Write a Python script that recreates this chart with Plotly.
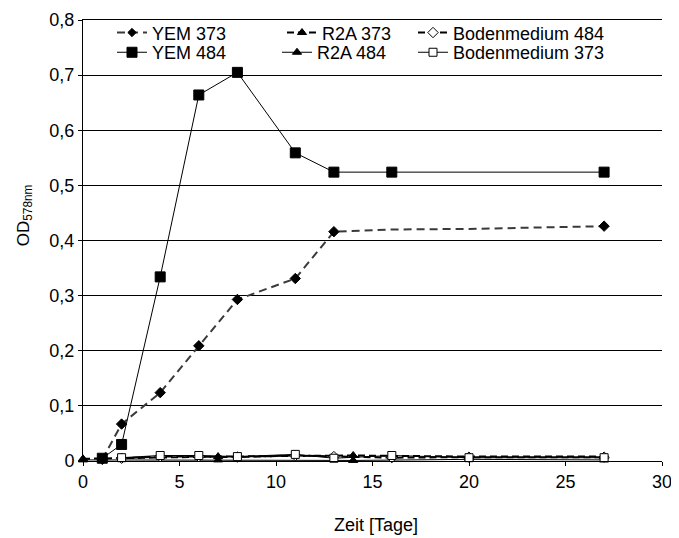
import plotly.graph_objects as go

# ---- data ----
yem373_days = [1, 2, 4, 6, 8, 11, 13, 16, 20, 27]
yem373_od = [0.003, 0.067, 0.124, 0.209, 0.293, 0.331, 0.416, 0.420, 0.421, 0.426]
yem373_marker = [1, 1, 1, 1, 1, 1, 1, 0, 0, 1]

yem484_days = [1, 2, 4, 6, 8, 11, 13, 16, 27]
yem484_od = [0.005, 0.030, 0.334, 0.664, 0.705, 0.559, 0.524, 0.524, 0.524]

r2a_days = [0, 7, 14, 20, 27]
r2a373_od = [0.004, 0.008, 0.010, 0.008, 0.008]
r2a484_od = [0.002, 0.002, 0.001, 0.003, 0.002]

boden_days = [2, 4, 6, 8, 11, 13, 16, 20, 27]
boden484_od = [0.005, 0.008, 0.008, 0.007, 0.010, 0.008, 0.006, 0.007, 0.007]
boden373_od = [0.006, 0.010, 0.010, 0.008, 0.012, 0.005, 0.010, 0.006, 0.006]

y_ticks = [0, 0.1, 0.2, 0.3, 0.4, 0.5, 0.6, 0.7, 0.8]
y_ticktext = ["0", "0,1", "0,2", "0,3", "0,4", "0,5", "0,6", "0,7", "0,8"]
x_ticks = [0, 5, 10, 15, 20, 25, 30]

FONT = "Liberation Sans, Arial, sans-serif"

fig = go.Figure()

def add(name, legend, x, y, dash, color, width, symbol, size, mfill, sizes=None):
    ms = [size * s for s in sizes] if sizes else size
    fig.add_trace(go.Scatter(
        x=x, y=y, name=name, mode="lines+markers", legend=legend,
        line=dict(color=color, width=width, dash=dash),
        marker=dict(symbol=symbol, size=ms, color=mfill, opacity=1,
                    line=dict(color="black", width=1)),
        cliponaxis=False,
    ))

add("YEM 373", "legend", yem373_days, yem373_od, "8px,5px", "#3a3a3a", 2, "diamond", 8, "black", yem373_marker)
add("YEM 484", "legend2", yem484_days, yem484_od, "solid", "black", 1, "square", 10, "black")
add("R2A 373", "legend3", r2a_days, r2a373_od, "7px,4px", "black", 2, "triangle-up", 8, "black")
add("R2A 484", "legend4", r2a_days, r2a484_od, "solid", "black", 1, "triangle-up", 8, "black")
add("Bodenmedium 484", "legend5", boden_days, boden484_od, "7px,4px", "black", 2, "diamond", 8, "white")
add("Bodenmedium 373", "legend6", boden_days, boden373_od, "solid", "black", 1, "square", 8, "white")

# page body margin of the exported html shifts the figure by 8px
OFF = 8
FW, FH = 679 - OFF, 538 - OFF
# target plot area in screenshot pixels
W0, W1 = 83, 662
T0, B0 = 14, 461

def px2x(px):
    return (px - W0) / (W1 - W0)

def px2y(py):
    return (B0 - py) / (B0 - T0)

def leg(xpx, ypx):
    return dict(x=px2x(xpx), y=px2y(ypx), xanchor="left", yanchor="middle",
                bgcolor="rgba(0,0,0,0)", font=dict(family=FONT, size=18, color="black"),
                itemwidth=30, borderwidth=0)

fig.update_layout(
    width=FW, height=FH,
    margin=dict(l=W0 - OFF, r=FW - (W1 - OFF), t=T0 - OFF, b=FH - (B0 - OFF)),
    paper_bgcolor="white", plot_bgcolor="white",
    font=dict(family=FONT, size=18, color="black"),
    showlegend=True,
    legend=leg(112, 27),
    legend2=leg(112, 47),
    legend3=leg(282, 27),
    legend4=leg(277, 47),
    legend5=leg(413, 27),
    legend6=leg(413, 47),
    xaxis=dict(
        range=[0, 30], tickvals=x_ticks, showgrid=False, zeroline=False,
        showline=True, linecolor="black", linewidth=1, mirror=True,
        ticks="outside", ticklen=4, tickcolor="black",
        tickfont=dict(size=18), automargin=False, ticklabeloverflow="allow",
    ),
    yaxis=dict(
        range=[0, 0.8], tickvals=y_ticks, ticktext=y_ticktext,
        showgrid=True, gridcolor="black", gridwidth=1, zeroline=False,
        showline=True, linecolor="black", linewidth=1,
        ticks="outside", ticklen=4, tickcolor="black",
        tickfont=dict(size=18), automargin=False, ticklabeloverflow="allow",
    ),
    annotations=[
        dict(text="Zeit [Tage]", xref="paper", yref="paper",
             x=px2x(376), y=px2y(526), xanchor="center", yanchor="middle",
             showarrow=False, font=dict(size=18)),
        dict(text="OD<sub>578nm</sub>", xref="paper", yref="paper",
             x=px2x(25), y=px2y(212), xanchor="center", yanchor="middle",
             textangle=-90, showarrow=False, font=dict(size=17)),
    ],
)

fig.write_html("out.html")
